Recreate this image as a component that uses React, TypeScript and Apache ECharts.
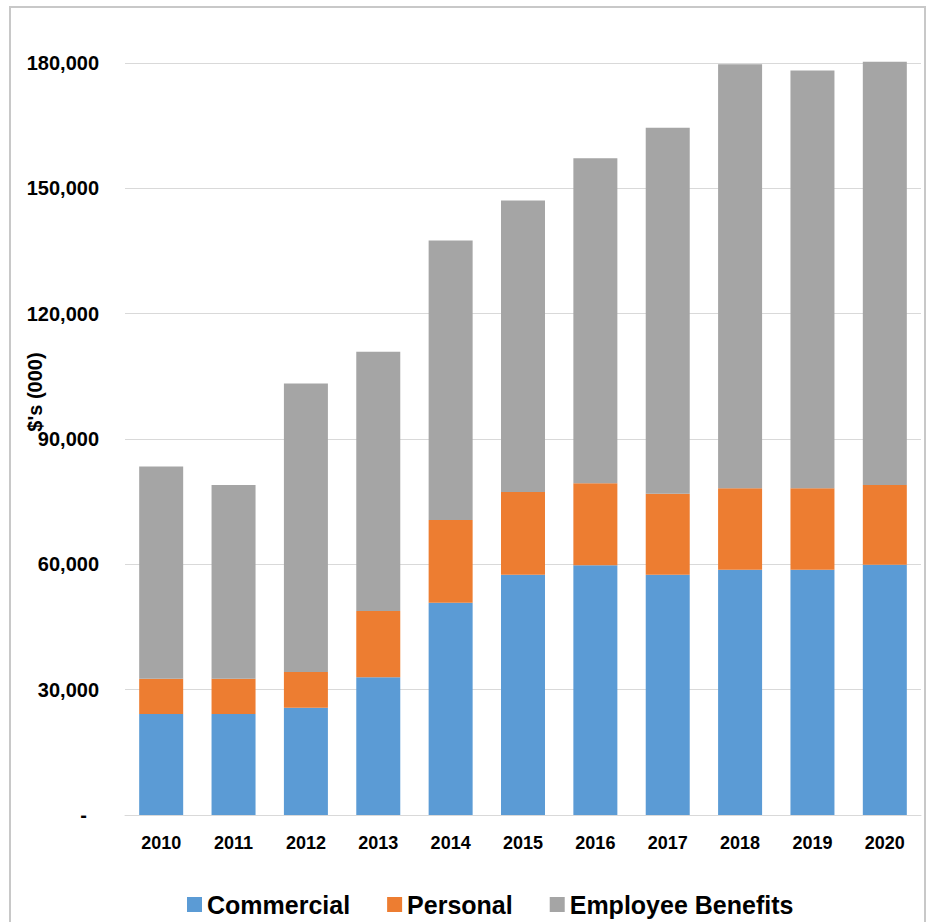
import React, { useEffect, useRef } from "react";
import * as echarts from "echarts";

const years = ["2010", "2011", "2012", "2013", "2014", "2015", "2016", "2017", "2018", "2019", "2020"];
const commercial = [24200, 24200, 25700, 33000, 50800, 57500, 59800, 57500, 58700, 58700, 59900];
const personal = [8400, 8400, 8500, 15800, 19800, 19800, 19600, 19400, 19500, 19500, 19100];
const employeeBenefits = [50800, 46400, 69100, 62100, 66900, 69800, 77800, 87600, 101500, 100000, 101300];
const yTitle = "$'s (000)";

const FONT = "'Liberation Sans', Arial, sans-serif";

export default function App() {
  const ref = useRef<HTMLDivElement>(null);
  useEffect(() => {
    if (!ref.current) return;
    const chart = echarts.init(ref.current, null, { renderer: "svg" });
    const mk = (name: string, data: number[], color: string) => ({
      name,
      type: "bar",
      stack: "total",
      data,
      barWidth: 44,
      clip: false,
      itemStyle: { color },
    });
    chart.setOption({
      animation: false,
      backgroundColor: "#ffffff",
      textStyle: { fontFamily: FONT },
      grid: { left: 125, right: 6, top: 63, bottom: 107, containLabel: false },
      legend: {
        left: 182,
        top: 887,
        itemWidth: 15,
        itemHeight: 15,
        itemGap: 37,
        icon: "rect",
        textStyle: { fontFamily: FONT, fontSize: 25, fontWeight: "bold", color: "#000" },
        data: ["Commercial", "Personal", "Employee Benefits"],
      },
      xAxis: {
        type: "category",
        data: years,
        axisLine: { show: true, lineStyle: { color: "#d9d9d9", width: 1 } },
        axisTick: { show: false },
        axisLabel: { margin: 19, fontFamily: FONT, fontSize: 18, fontWeight: "bold", color: "#000" },
      },
      yAxis: {
        type: "value",
        min: 0,
        max: 180000,
        interval: 30000,
        axisLine: { show: false },
        axisTick: { show: false },
        splitLine: { lineStyle: { color: "#d9d9d9", width: 1 } },
        axisLabel: {
          margin: 26,
          fontFamily: FONT,
          fontSize: 20,
          fontWeight: "bold",
          color: "#000",
          formatter: (v: number) => (v === 0 ? "{d|-}" : v.toLocaleString("en-US")),
          rich: { d: { fontFamily: FONT, fontSize: 20, fontWeight: "bold", color: "#000", padding: [0, 12, 0, 0] } },
        },
      },
      graphic: [
        {
          type: "rect",
          shape: { x: 10, y: 7, width: 915, height: 940 },
          style: { fill: "none", stroke: "#c8c8c8", lineWidth: 2 },
          silent: true,
          z: -1,
        },
        {
          type: "text",
          x: 35,
          y: 392,
          rotation: Math.PI / 2,
          style: {
            text: yTitle,
            fontFamily: FONT,
            fontSize: 20,
            fontWeight: "bold",
            fill: "#000",
            align: "center",
            verticalAlign: "middle",
          },
        },
      ],
      series: [
        mk("Commercial", commercial, "#5B9BD5"),
        mk("Personal", personal, "#ED7D31"),
        mk("Employee Benefits", employeeBenefits, "#A5A5A5"),
      ],
    });
    return () => chart.dispose();
  }, []);
  return <div ref={ref} style={{ position: "fixed", left: 0, top: 0, width: 927, height: 922 }} />;
}
